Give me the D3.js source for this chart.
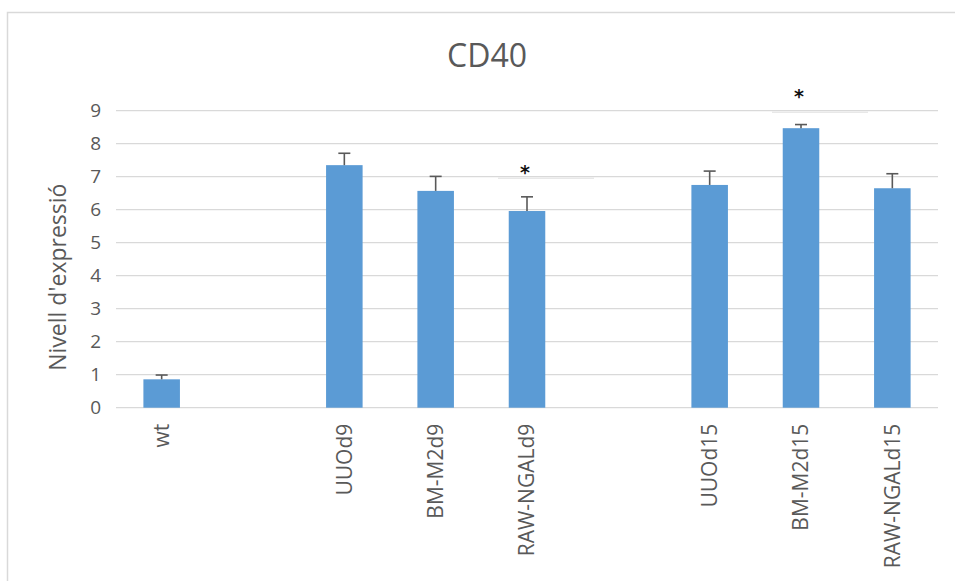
<!DOCTYPE html>
<html>
<head>
<meta charset="utf-8">
<script src="https://cdn.jsdelivr.net/npm/d3@7"></script>
<style>
  html, body { margin: 0; padding: 0; background: #fff; }
  svg { display: block; }
</style>
</head>
<body>
<svg id="chart" width="955" height="581"></svg>
<script>
// CD40 expression per group (empty names are spacer slots between groups)
const categories = ["wt", "", "UUOd9", "BM-M2d9", "RAW-NGALd9", "", "UUOd15", "BM-M2d15", "RAW-NGALd15"];
const values     = [0.86, null, 7.35, 6.57, 5.96, null, 6.75, 8.47, 6.65];
const errors     = [0.13, null, 0.36, 0.44, 0.43, null, 0.42, 0.11, 0.44];
// significance marks: height of the asterisk (null = none)
const sigMarks   = [null, null, null, null, 7.25, null, null, 9.55, null];
const yTicks     = [0, 1, 2, 3, 4, 5, 6, 7, 8, 9];

const title = "CD40";
const yTitle = "Nivell d'expressió";

const svg = d3.select("#chart");
const W = 955, H = 581;
const margin = { left: 116, right: 17, top: 110.7, bottom: 173.3 };
const textColor = "#595959";
const font = "'Open Sans', 'Noto Sans', sans-serif";

// outer chart frame
svg.append("rect")
  .attr("x", 7.5).attr("y", 12.5)
  .attr("width", W + 20).attr("height", H + 20)
  .attr("fill", "none").attr("stroke", "#d9d9d9").attr("stroke-width", 1.5);

const x = d3.scaleBand()
  .domain(categories.map((c, i) => i))
  .range([margin.left, W - margin.right])
  .paddingInner(0.6).paddingOuter(0.3);

const y = d3.scaleLinear()
  .domain([0, 9])
  .range([H - margin.bottom, margin.top]);

// gridlines
svg.append("g")
  .selectAll("line")
  .data(yTicks)
  .join("line")
  .attr("x1", margin.left).attr("x2", W - margin.right)
  .attr("y1", d => y(d)).attr("y2", d => y(d))
  .attr("stroke", "#d9d9d9").attr("stroke-width", 1.3);

// y axis labels
const yAxis = svg.append("g")
  .attr("transform", `translate(${margin.left - 15},0)`)
  .call(d3.axisLeft(y).tickValues(yTicks).tickSize(0).tickPadding(0));
yAxis.select(".domain").remove();
yAxis.selectAll("text")
  .attr("fill", textColor)
  .style("font-family", font)
  .style("font-size", "19px");

// x axis labels (rotated)
const xAxis = svg.append("g")
  .attr("transform", `translate(0,${y(0)})`)
  .call(d3.axisBottom(x).tickFormat(i => categories[i]).tickSize(0).tickPadding(0));
xAxis.select(".domain").remove();
xAxis.selectAll("text")
  .attr("fill", textColor)
  .style("font-family", font)
  .style("font-size", "21px")
  .attr("text-anchor", "end")
  .attr("dy", "0.35em")
  .attr("transform", "translate(0,16) rotate(-90)")
  .attr("x", 0).attr("y", 0);

const idx = categories.map((c, i) => i).filter(i => values[i] != null);

// bars
svg.append("g")
  .selectAll("rect")
  .data(idx)
  .join("rect")
  .attr("x", i => x(i))
  .attr("width", x.bandwidth())
  .attr("y", i => y(values[i]))
  .attr("height", i => y(0) - y(values[i]))
  .attr("fill", "#5b9bd5");

// error bars (upper only)
const eb = svg.append("g")
  .attr("stroke", "#595959").attr("stroke-width", 1.6);
idx.forEach(i => {
  const cx = x(i) + x.bandwidth() / 2;
  eb.append("line")
    .attr("x1", cx).attr("x2", cx)
    .attr("y1", y(values[i])).attr("y2", y(values[i] + errors[i]));
  eb.append("line")
    .attr("x1", cx - 6).attr("x2", cx + 6)
    .attr("y1", y(values[i] + errors[i])).attr("y2", y(values[i] + errors[i]));
});

// significance asterisks with their label box edge
const sig = categories.map((c, i) => i).filter(i => sigMarks[i] != null);
sig.forEach(i => {
  const cx = x(i) + x.bandwidth() / 2;
  const ly = y(Math.floor(sigMarks[i])) + 1.5;
  svg.append("line")
    .attr("x1", cx - 29).attr("x2", cx + 67)
    .attr("y1", ly).attr("y2", ly)
    .attr("stroke", "#e8e8e8").attr("stroke-width", 1.5);
  svg.append("text")
    .attr("x", cx - 2).attr("y", y(sigMarks[i]))
    .attr("text-anchor", "middle")
    .attr("dy", "0.57em")
    .style("font-family", "'DejaVu Sans', sans-serif")
    .style("font-weight", "bold")
    .style("font-size", "19px")
    .attr("fill", "#111")
    .text("*");
});

// chart title
svg.append("text")
  .attr("x", 487).attr("y", 67)
  .attr("text-anchor", "middle")
  .attr("fill", textColor)
  .style("font-family", font)
  .style("font-size", "32px")
  .text(title);

// y axis title
svg.append("text")
  .attr("transform", `translate(66,${(y(0) + y(9)) / 2 + 18}) rotate(-90)`)
  .attr("text-anchor", "middle")
  .attr("fill", textColor)
  .style("font-family", font)
  .style("font-size", "23px")
  .text(yTitle);
</script>
</body>
</html>
